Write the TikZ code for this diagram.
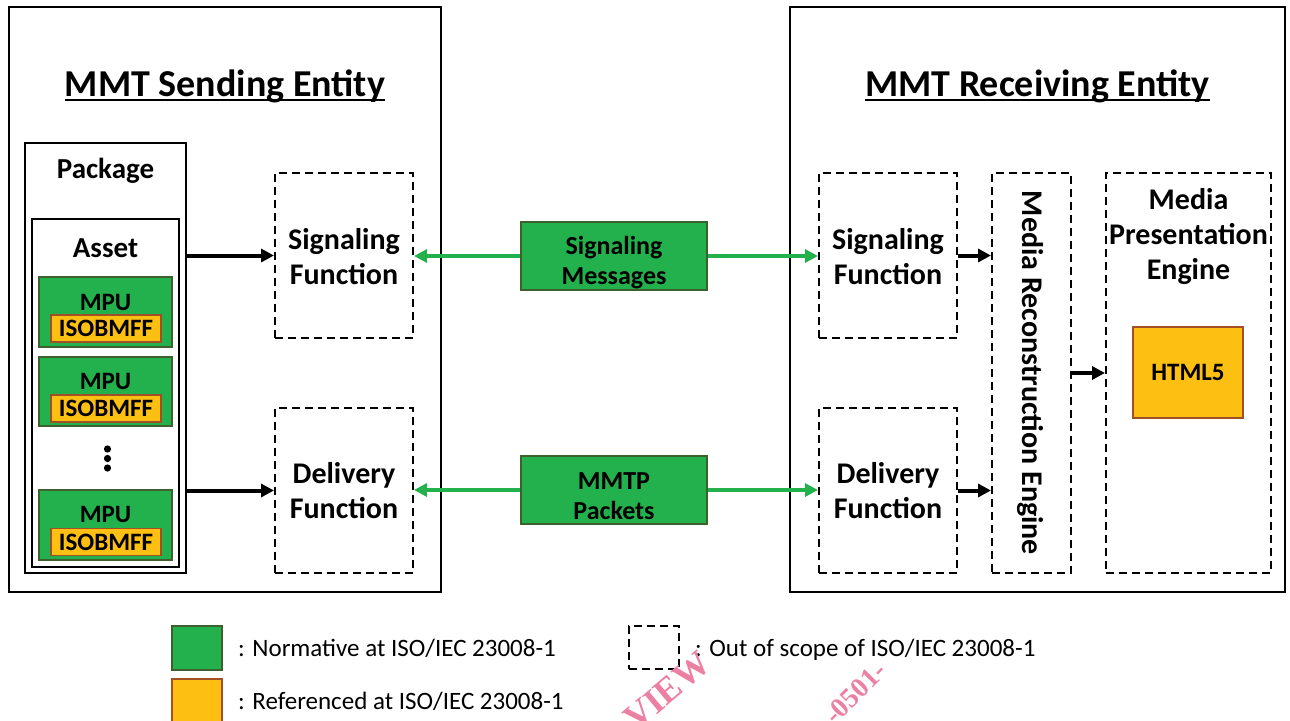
\documentclass[tikz,border=0pt]{standalone}
\usepackage{fontspec}
\setmainfont{Carlito}
\newfontfamily\wmfont{Liberation Serif}
\usetikzlibrary{arrows.meta}
\definecolor{gfill}{RGB}{34,177,76}
\definecolor{gdraw}{RGB}{62,96,44}
\definecolor{yfill}{RGB}{252,191,18}
\definecolor{ydraw}{RGB}{160,80,36}
\definecolor{wmcol}{RGB}{236,128,162}
\definecolor{garrow}{RGB}{34,177,76}
\begin{document}
\begin{tikzpicture}[x=1pt,y=-1pt,
  sz/.style 2 args={minimum width=#1 pt, minimum height=#2 pt, inner sep=0pt},
  solidbox/.style={draw, line width=2pt},
  dashbox/.style={draw, line width=2pt, dash pattern=on 8pt off 5pt},
  greenbox/.style={draw=gdraw, fill=gfill, line width=1.6pt},
  yellowbox/.style={draw=ydraw, fill=yfill, line width=1.6pt},
  titletext/.style={inner sep=0pt, font=\fontsize{38}{40}\selectfont\bfseries},
  bigtext/.style={align=center, inner sep=0pt, font=\fontsize{30}{35}\selectfont\bfseries},
  midtext/.style={align=center, inner sep=0pt, font=\fontsize{26}{30}\selectfont\bfseries},
  smalltext/.style={align=center, inner sep=0pt, font=\fontsize{25}{28}\selectfont\bfseries},
  legtext/.style={inner sep=0pt, anchor=base west, font=\fontsize{25}{28}\selectfont},
  barrow/.style={line width=4pt, -{Triangle[length=13pt,width=13pt]}},
  garr/.style={draw=garrow, line width=3.5pt, -{Triangle[length=13pt,width=13pt]}},
  wmtext/.style={text=wmcol, inner sep=0pt, anchor=base west, font=\wmfont\bfseries}
]
\useasboundingbox (0,0) rectangle (1290,720);

% outer entities
\node[solidbox, sz={432}{585}] (send) at (225,299.5) {};
\node[solidbox, sz={495}{585}] (recv) at (1037.5,299.5) {};
\node[titletext, anchor=base] (tsend) at (225,96) {MMT Sending Entity};
\node[titletext, anchor=base] (trecv) at (1037.5,96) {MMT Receiving Entity};
\draw[line width=2pt] ([yshift=-4pt]tsend.base west) -- ([yshift=-4pt]tsend.base east);
\draw[line width=2pt] ([yshift=-4pt]trecv.base west) -- ([yshift=-4pt]trecv.base east);

% package / asset
\node[solidbox, sz={161}{430}] (pack) at (105.5,358) {};
\node[solidbox, sz={147}{348}] (asset) at (105.5,393) {};
\node[bigtext, font=\fontsize{29}{33}\selectfont\bfseries] (packl) at (105.5,171) {Package};
\node[bigtext, font=\fontsize{29}{33}\selectfont\bfseries] (assetl) at (105.5,248) {Asset};

\node[greenbox, sz={133}{70}] (mpu1) at (105.5,312) {};
\node[greenbox, sz={133}{69}] (mpu2) at (105.5,391.5) {};
\node[greenbox, sz={133}{70}] (mpu3) at (105.5,525) {};
\node[smalltext] (mpu1l) at (105.5,302) {MPU};
\node[smalltext] (mpu2l) at (105.5,381) {MPU};
\node[smalltext] (mpu3l) at (105.5,514) {MPU};
\node[yellowbox, sz={110}{27}, smalltext] (iso1) at (106,328.5) {ISOBMFF};
\node[yellowbox, sz={110}{27}, smalltext] (iso2) at (106,408.5) {ISOBMFF};
\node[yellowbox, sz={110}{27}, smalltext] (iso3) at (106,542) {ISOBMFF};
\fill (107.5,449) circle (3.6pt) (107.5,458.5) circle (3.6pt) (107.5,468) circle (3.6pt);

% sending functions
\node[dashbox, sz={138}{165}] (ssig) at (344,255.5) {};
\node[bigtext] (ssigl) at (344,257) {Signaling\\Function};
\node[dashbox, sz={138}{165}] (sdel) at (344,490.5) {};
\node[bigtext] (sdell) at (344,491) {Delivery\\Function};

% middle messages
\node[greenbox, sz={186}{68}] (msg) at (614,256) {};
\node[midtext] (msgl) at (614,263) {Signaling\\Messages};
\node[greenbox, sz={186}{68}] (mmtp) at (614,490) {};
\node[midtext] (mmtpl) at (614,496) {MMTP\\Packets};

% receiving functions
\node[dashbox, sz={138}{165}] (rsig) at (888,255.5) {};
\node[bigtext] (rsigl) at (888,257) {Signaling\\Function};
\node[dashbox, sz={138}{165}] (rdel) at (888,490.5) {};
\node[bigtext] (rdell) at (888,491) {Delivery\\Function};
\node[dashbox, sz={79}{400}] (mre) at (1031.5,373) {};
\node[bigtext, rotate=-90] (mrel) at (1030,373) {Media Reconstruction Engine};
\node[dashbox, sz={165}{400}] (mpe) at (1188.5,373) {};
\node[bigtext, anchor=north] (mpel) at (1188.5,188) {Media\\Presentation\\Engine};
\node[yellowbox, sz={110}{91}, smalltext] (html) at (1188,372.5) {HTML5};

% connectors
\draw[barrow] (pack.east |- ssig.west) -- (ssig.west);
\draw[barrow] (pack.east |- sdel.west) -- (sdel.west);
\draw[garr] (msg.west) -- (msg.west -| ssig.east);
\draw[garr] (msg.east) -- (msg.east -| rsig.west);
\draw[garr] (mmtp.west) -- (mmtp.west -| sdel.east);
\draw[garr] (mmtp.east) -- (mmtp.east -| rdel.west);
\draw[barrow] (rsig.east) -- (rsig.east -| mre.west);
\draw[barrow] (rdel.east) -- (rdel.east -| mre.west);
\draw[barrow] (mre.east) -- (mre.east -| mpe.west);

% legend
\node[greenbox, sz={50}{44}] (lg) at (197,648) {};
\node[legtext] (lgt) at (238,656) {: Normative at ISO/IEC 23008-1};
\node[yellowbox, sz={50}{44}] (ly) at (197,701) {};
\node[legtext] (lyt) at (238,709) {: Referenced at ISO/IEC 23008-1};
\node[dashbox, sz={50}{43}] (ld) at (654,647.5) {};
\node[legtext] (ldt) at (695,656) {: Out of scope of ISO/IEC 23008-1};

% watermark fragments
\node[wmtext, rotate=40, font=\wmfont\bfseries\fontsize{36}{38}\selectfont] (wm1) at (636,732) {VIEW};
\node[wmtext, rotate=45, font=\wmfont\bfseries\fontsize{28}{30}\selectfont] (wm2) at (835,726) {-0501-};
\end{tikzpicture}
\end{document}
